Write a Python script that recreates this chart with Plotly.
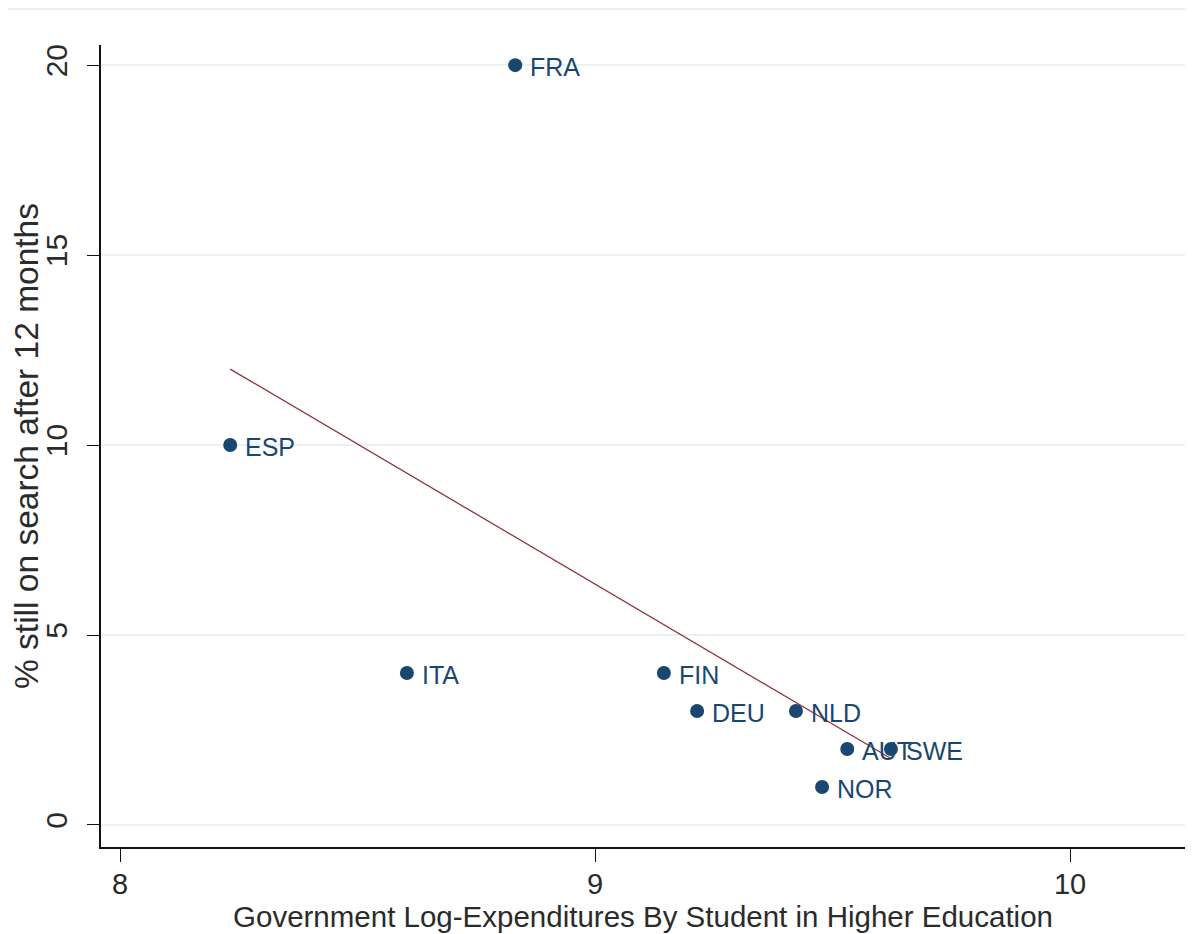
import plotly.graph_objects as go

countries = ["FRA", "ESP", "ITA", "FIN", "DEU", "NLD", "AUT", "SWE", "NOR"]
log_expenditure = [8.832, 8.232, 8.604, 9.145, 9.215, 9.423, 9.531, 9.623, 9.478]
pct_still_searching = [20, 10, 4, 4, 3, 3, 2, 2, 1]

fit_x = [8.232, 9.623]
fit_y = [12.0, 1.75]

x_ticks = [8, 9, 10]
y_ticks = [0, 5, 10, 15, 20]

NAVY = "#1a476f"
MAROON = "#90353b"
TEXT = "#2b2b2b"
FONT = "Liberation Sans, Arial, sans-serif"

W, H = 1185, 926
ML, MR, MT, MB = 93, 8, 37, 87

fig = go.Figure()

fig.add_trace(go.Scatter(
    x=fit_x, y=fit_y, mode="lines",
    line=dict(color=MAROON, width=1.3),
    showlegend=False, hoverinfo="skip",
))

fig.add_trace(go.Scatter(
    x=log_expenditure, y=pct_still_searching, mode="markers",
    marker=dict(color=NAVY, size=14, line=dict(width=0)),
    showlegend=False, hoverinfo="skip", cliponaxis=False,
))

for cx, cy, name in zip(log_expenditure, pct_still_searching, countries):
    fig.add_annotation(x=cx, y=cy, text=name, showarrow=False,
                       xanchor="left", yanchor="middle", xshift=13, yshift=-2,
                       font=dict(family=FONT, size=25, color=NAVY))

pw = W - ML - MR
ph = H - MT - MB
fig.add_shape(type="line", xref="paper", yref="paper",
              x0=-ML / pw, x1=1 + MR / pw, y0=1 + (MT - 1) / ph, y1=1 + (MT - 1) / ph,
              line=dict(color="#e9eef1", width=2))

fig.update_layout(
    width=W, height=H,
    margin=dict(l=ML, r=MR, t=MT, b=MB),
    paper_bgcolor="white", plot_bgcolor="white",
    font=dict(family=FONT, size=20, color=TEXT),
    xaxis=dict(
        range=[7.96, 10.242], tickvals=x_ticks, ticktext=[str(v) for v in x_ticks],
        showgrid=False, zeroline=False,
        showline=True, linecolor="#111", linewidth=1.5,
        ticks="outside", ticklen=13, tickwidth=1.2, tickcolor="#111",
        ticklabelstandoff=-3,
        tickfont=dict(family=FONT, size=29, color=TEXT),
        title=dict(text="Government Log-Expenditures By Student in Higher Education",
                   font=dict(family=FONT, size=29.5, color=TEXT), standoff=4),
        automargin=False,
    ),
    yaxis=dict(
        range=[-0.58, 20.53], tickvals=y_ticks, ticktext=[str(v) for v in y_ticks],
        showgrid=True, gridcolor="#eaf2f3", gridwidth=1.5, zeroline=False,
        showline=True, linecolor="#111", linewidth=1.5,
        ticks="outside", ticklen=12, tickwidth=1.2, tickcolor="#111",
        tickangle=-90, ticklabelstandoff=8,
        tickfont=dict(family=FONT, size=30, color=TEXT),
        title=dict(text="% still on search after 12 months",
                   font=dict(family=FONT, size=33.5, color=TEXT), standoff=6),
        automargin=False,
    ),
)

fig.write_html("out.html")
